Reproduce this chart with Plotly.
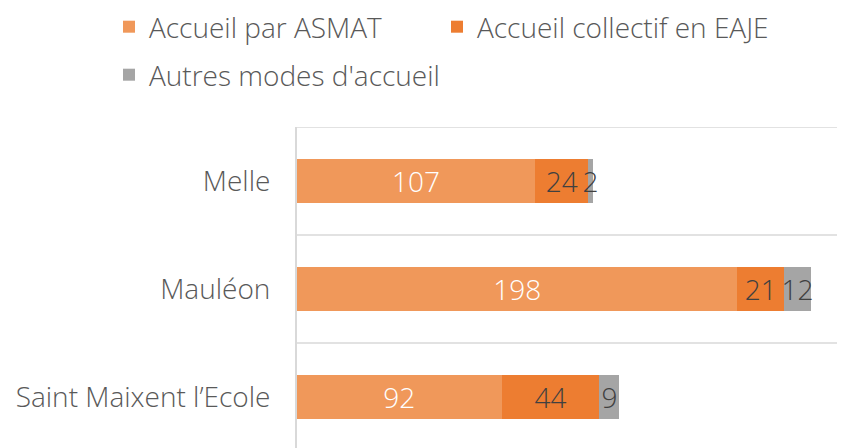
import plotly.graph_objects as go

categories = ["Saint Maixent l’Ecole", "Mauléon", "Melle"]
asmat = [92, 198, 107]
eaje = [44, 21, 24]
autres = [9, 12, 2]
series_names = ["Accueil par ASMAT", "Accueil collectif en EAJE", "Autres modes d'accueil"]
colors = ["#F0985A", "#ED7D31", "#A5A5A5"]
text_colors = ["#FFFFFF", "#404040", "#404040"]
legend_ids = ["legend", "legend3", "legend2"]

FONT = "Open Sans"
FS = 28
W, H = 845, 448
ML, MT = 289, 119
PW, PH = W - ML, H - MT
fig = go.Figure()
for name, vals, col, tcol, lg in zip(series_names, [asmat, eaje, autres], colors, text_colors, legend_ids):
    fig.add_trace(go.Bar(
        y=categories, x=vals, name=name, orientation="h", legend=lg,
        marker=dict(color=col, line=dict(width=0)),
        text=[str(v) for v in vals], textposition="inside", textangle=0,
        insidetextanchor="middle", constraintext="none",
        textfont=dict(family=FONT, size=FS, color=tcol, weight=300),
        hoverinfo="skip",
    ))

# category separators
for yv in [0.5, 1.5, 2.5]:
    fig.add_shape(type="line", xref="paper", yref="y", x0=0, x1=1, y0=yv, y1=yv,
                  line=dict(color="#D9D9D9", width=1.5), layer="below")

leg_common = dict(orientation="h", xref="paper", xanchor="left",
                  yref="paper", yanchor="middle",
                  font=dict(family=FONT, size=FS, color="#595959", weight=300),
                  traceorder="normal", itemclick=False)

fig.update_layout(
    width=W, height=H,
    margin=dict(l=ML, r=0, t=MT, b=0, autoexpand=False),
    barmode="stack", bargap=0.593,
    plot_bgcolor="white", paper_bgcolor="white",
    font=dict(family=FONT, size=FS, color="#595959", weight=300),
    showlegend=True,
    legend=dict(x=(101 - ML) / PW, y=1 + (MT - 19) / PH, **leg_common),
    legend3=dict(x=(429 - ML) / PW, y=1 + (MT - 19) / PH, **leg_common),
    legend2=dict(x=(101 - ML) / PW, y=1 + (MT - 67) / PH, **leg_common),
    xaxis=dict(range=[0, 250], showgrid=False, showticklabels=False, zeroline=False,
               showline=False, fixedrange=True, automargin=False),
    yaxis=dict(type="category", categoryorder="array", categoryarray=categories,
               range=[-0.546, 2.5], showgrid=False, zeroline=False, automargin=False,
               showline=True, linecolor="#D9D9D9", linewidth=2,
               ticks="", ticklabelstandoff=19,
               tickfont=dict(family=FONT, size=FS, color="#595959", weight=300)),
)

fig.write_html("out.html")
